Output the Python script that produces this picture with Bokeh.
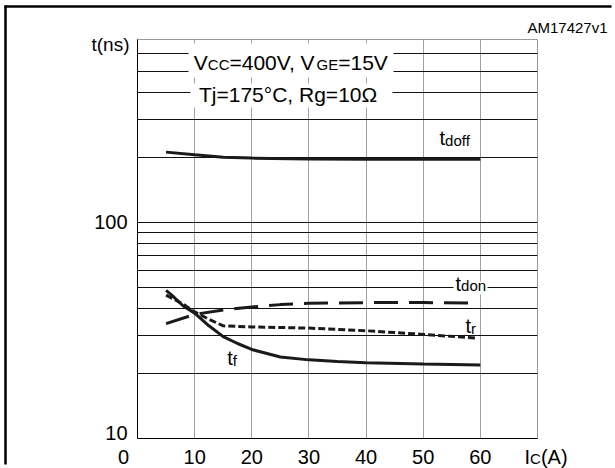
from bokeh.plotting import figure
from bokeh.models import FixedTicker, Label, BoxAnnotation
from bokeh.core.properties import value
from bokeh.embed import file_html
from bokeh.resources import INLINE
import math

# ---------------- data ----------------
X_TDOFF = [5, 10, 15, 20, 30, 40, 50, 60]
T_DOFF = [211, 205, 200, 198, 196, 195.5, 195.5, 195.5]

X_TDON = [5, 10, 15, 20, 25, 30, 40, 50, 58.5]
T_DON = [34, 37.5, 39.3, 40.6, 41.6, 42.2, 42.5, 42.5, 42.3]

X_TR = [5, 6, 8, 10, 12.5, 15, 20, 30, 40, 50, 59.5]
T_R = [46, 44.6, 41.8, 38.5, 35.6, 33.2, 32.8, 32.4, 31.5, 30.3, 29.1]

X_TF = [5, 6, 8, 10, 12.5, 15, 17.5, 20, 25, 30, 35, 40, 50, 60]
T_F = [48.4, 46, 41, 38, 33.2, 29.6, 27.5, 25.8, 23.8, 23.1, 22.7, 22.4, 22.1, 21.9]

X_TICKS = [0, 10, 20, 30, 40, 50, 60]
X_TICK_LABELS = ["0", "10", "20", "30", "40", "50", "60"]
Y_TICKS = [10, 100]
Y_TICK_LABELS = ["10", "100"]
X_GRID = [10, 20, 30, 40, 50, 60]
Y_GRID = [20, 30, 40, 50, 60, 70, 80, 90, 100, 200, 300, 400, 500, 600]

X_RANGE = (0, 70)
Y_RANGE = (10, 700)

FONT = "Liberation Sans"

# ---------------- layout (page pixels) ----------------
W, H = 615, 468
FL, FT, FW, FH = 137, 39, 400, 399   # frame left/top/width/height
FB = FT + FH
DEC = FH / math.log10(Y_RANGE[1] / Y_RANGE[0])
MID = 0.36   # cap-centre above baseline, in em


def dx(px):
    return X_RANGE[0] + (px - FL) * (X_RANGE[1] - X_RANGE[0]) / FW


def dy(py):
    return Y_RANGE[0] * 10 ** ((FB - py) / DEC)


p = figure(width=W, height=H, x_range=X_RANGE, y_range=Y_RANGE,
           y_axis_type="log", output_backend="svg", toolbar_location=None,
           min_border_left=FL, min_border_right=W - FL - FW,
           min_border_top=FT, min_border_bottom=H - FT - FH)
p.background_fill_color = "white"
p.border_fill_color = "white"
p.outline_line_color = "#9a9a9a"
p.outline_line_width = 1

# grids
p.xgrid.ticker = FixedTicker(ticks=X_GRID)
p.xgrid.grid_line_color = "#a0a0a0"
p.xgrid.grid_line_width = 1
p.ygrid.ticker = FixedTicker(ticks=Y_GRID)
p.ygrid.grid_line_color = "#111111"
p.ygrid.grid_line_width = 1

# axes: lines only, labels are drawn as text
for ax in (p.xaxis, p.yaxis):
    ax.ticker = FixedTicker(ticks=[])
    ax.major_tick_in = 0
    ax.major_tick_out = 0
    ax.minor_tick_line_color = None
    ax.major_tick_line_color = None
    ax.major_label_text_font_size = "0px"
    ax.major_label_standoff = 0
    ax.axis_line_color = "black"

# curves
p.line(X_TDOFF, T_DOFF, line_width=3, line_color="#1a1a1a")
p.line(X_TF, T_F, line_width=3, line_color="#1a1a1a")
p.line(X_TDON, T_DON, line_width=3, line_color="#1a1a1a", line_dash="24 11")
p.line(X_TR, T_R, line_width=3, line_color="#1a1a1a", line_dash="7 3")

# outer figure frame (left and top edges of the datasheet box), well inside the canvas
p.segment(x0=[dx(5), dx(4)], y0=[dy(H - 4), dy(6)],
          x1=[dx(5), dx(W - 4)], y1=[dy(5), dy(6)],
          line_width=2.5, line_color="black", level="overlay")

# white boxes behind the condition texts and tdon label
for (l, r, t, b) in [(188, 393, 43, 77), (190, 392, 83, 107), (453, 487, 281, 294)]:
    p.add_layout(BoxAnnotation(left=dx(l), right=dx(r), top=dy(t), bottom=dy(b),
                               fill_color="white", fill_alpha=1.0,
                               line_color=None, line_alpha=0))


def lab(text, px, base, size, align="left"):
    # base = alphabetic baseline in page px; anchor on cap centre
    p.add_layout(Label(x=dx(px), y=dy(base - MID * size), text=text,
                       x_units="data", y_units="data",
                       text_font=FONT, text_font_size=f"{size}px", text_color="black",
                       text_align=align, text_baseline="middle"))


def txt(xs, ys, texts, size, align="left", x_offset=0, y_offset=0):
    # text glyphs drawn at overlay level so they may sit outside the frame
    p.text(x=xs, y=ys, text=texts, text_font=value(FONT),
           text_font_size=value(f"{size}px"), text_color="black",
           text_align=align, text_baseline="middle", x_offset=x_offset,
           y_offset=y_offset, level="overlay")


# condition texts
lab("V", 193.3, 69.3, 21)
lab("CC", 207.3, 69.3, 15)
lab("=400V, V", 229.0, 69.3, 21)
lab("GE", 316.0, 69.3, 15)
lab("=15V", 337.7, 69.3, 21)
lab("Tj=175°C, Rg=10Ω", 198.5, 101.5, 21)

# curve labels
lab("t", 439, 145, 20)
lab("doff", 444.6, 145, 15)
lab("t", 455, 290.7, 20)
lab("don", 460.6, 290.7, 15)
lab("t", 465, 333, 20)
lab("r", 470.6, 333, 15)
lab("t", 226.7, 365, 20)
lab("f", 232.3, 365, 15)

# axis title / id (outside the frame)
txt([dx(129)], [dy(50.5 - MID * 19)], ["t(ns)"], 19, align="right")
txt([dx(607)], [dy(32 - MID * 15)], ["AM17427v1"], 15, align="right")

# y tick labels
YL_X = dx(127)
txt([YL_X], Y_TICKS[1:], Y_TICK_LABELS[1:], 20, align="right")
txt([YL_X], Y_TICKS[:1], Y_TICK_LABELS[:1], 20, align="right", y_offset=-6)

# x tick labels
XL_BASE = 463.3
yb = dy(XL_BASE - MID * 20)
txt(X_TICKS[:1], [yb], X_TICK_LABELS[:1], 20, align="center", x_offset=-14)
txt(X_TICKS[1:], [yb] * (len(X_TICKS) - 1), X_TICK_LABELS[1:], 20, align="center")
txt([dx(524)], [yb], ["I"], 20)
txt([dx(529.6)], [dy(XL_BASE - MID * 15)], ["C"], 15)
txt([dx(540.4)], [yb], ["(A)"], 20)

open("out.html", "w").write(file_html(p, INLINE))
